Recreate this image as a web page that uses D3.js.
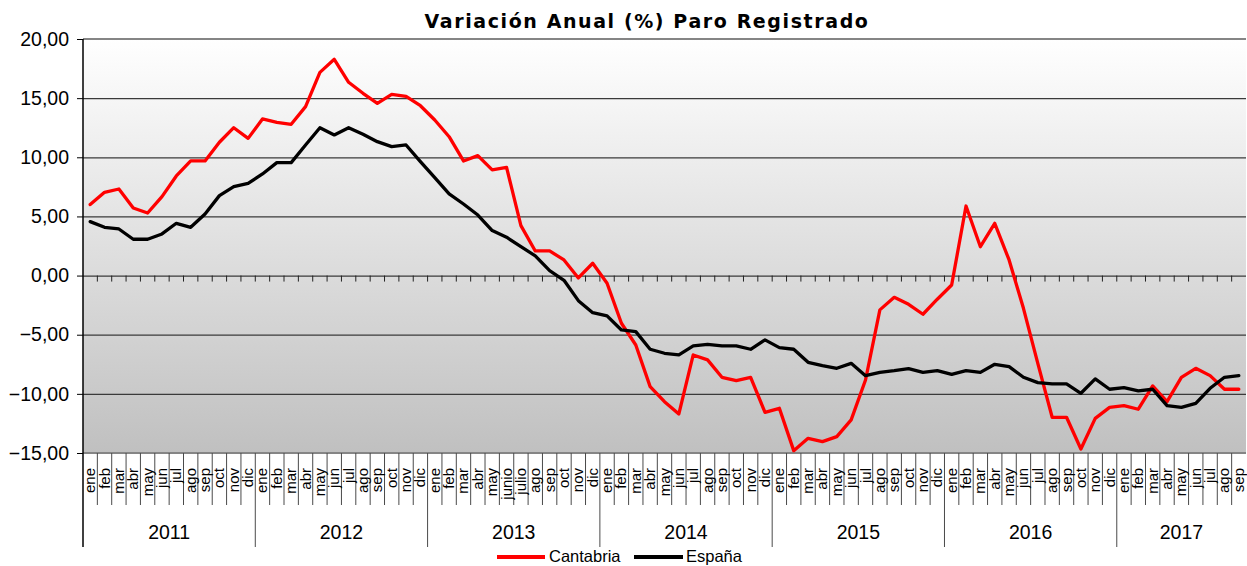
<!DOCTYPE html>
<html>
<head>
<meta charset="utf-8">
<script src="https://cdn.jsdelivr.net/npm/d3@7"></script>
<style>
  html, body { margin: 0; padding: 0; background: #ffffff; }
  svg { display: block; }
</style>
</head>
<body>
<svg id="chart" width="1247" height="566"></svg>
<script>
// ---------------- DATA ----------------
const years = ["2011", "2012", "2013", "2014", "2015", "2016", "2017"];
const monthsStd = ["ene","feb","mar","abr","may","jun","jul","ago","sep","oct","nov","dic"];
const months2013 = ["ene","feb","mar","abr","may","junio","julio","ago","sep","oct","nov","dic"];
const months2017 = ["ene","feb","mar","abr","may","jun","jul","ago","sep"];
const monthsPerYear = [monthsStd, monthsStd, months2013, monthsStd, monthsStd, monthsStd, months2017];

const cantabria = [
  6.00, 7.04, 7.32, 5.71, 5.29, 6.67, 8.42, 9.69, 9.69, 11.27, 12.50, 11.60,
  13.24, 12.96, 12.79, 14.28, 17.18, 18.28, 16.34, 15.41, 14.56, 15.32, 15.15, 14.36,
  13.15, 11.74, 9.69, 10.14, 8.93, 9.15, 4.22, 2.08, 2.08, 1.32, -0.20, 1.04,
  -0.65, -4.03, -5.87, -9.39, -10.66, -11.70, -6.71, -7.13, -8.60, -8.88, -8.60, -11.56,
  -11.22, -14.80, -13.76, -14.04, -13.62, -12.20, -8.83, -2.90, -1.84, -2.43, -3.27, -2.00,
  -0.80, 5.88, 2.44, 4.42, 1.32, -2.77, -7.42, -11.98, -11.98, -14.66, -12.07, -11.14,
  -11.00, -11.30, -9.33, -10.66, -8.60, -7.84, -8.46, -9.61, -9.61
];
const espana = [
  4.56, 4.08, 3.94, 3.07, 3.07, 3.52, 4.42, 4.08, 5.21, 6.76, 7.52, 7.80,
  8.59, 9.55, 9.55, 11.04, 12.50, 11.89, 12.50, 11.94, 11.32, 10.90, 11.04, 9.63,
  8.28, 6.90, 6.05, 5.12, 3.80, 3.24, 2.44, 1.67, 0.41, -0.40, -2.12, -3.14,
  -3.41, -4.60, -4.74, -6.23, -6.57, -6.71, -5.95, -5.81, -5.95, -5.95, -6.23, -5.44,
  -6.09, -6.23, -7.33, -7.61, -7.84, -7.42, -8.46, -8.18, -8.04, -7.87, -8.18, -8.04,
  -8.35, -8.04, -8.18, -7.50, -7.70, -8.60, -9.05, -9.16, -9.16, -9.95, -8.74, -9.61,
  -9.47, -9.75, -9.61, -11.00, -11.14, -10.80, -9.53, -8.60, -8.46
];
const yTicks = [-15, -10, -5, 0, 5, 10, 15, 20];
const seriesNames = ["Cantabria", "España"];
const seriesColors = ["#ff0000", "#000000"];
const titleText = "Variación Anual (%) Paro Registrado";

// ---------------- LAYOUT ----------------
const monthLabels = monthsPerYear.flat();
const yearOfIndex = monthsPerYear.flatMap((m, yi) => m.map(() => yi));
const N = monthLabels.length;

const L = 83, R = 1246, T = 39, B = 453;
const svg = d3.select("#chart");

const x = d3.scaleBand().domain(d3.range(N)).range([L, R]).paddingInner(0).paddingOuter(0);
const y = d3.scaleLinear().domain([-15, 20]).range([B, T]);
const step = x.step();
const cx = i => x(i) + step / 2;

// background gradient
const defs = svg.append("defs");
const grad = defs.append("linearGradient").attr("id", "bg")
  .attr("x1", 0).attr("y1", 0).attr("x2", 0).attr("y2", 1);
grad.append("stop").attr("offset", "0%").attr("stop-color", "#ffffff");
grad.append("stop").attr("offset", "100%").attr("stop-color", "#c0c0c0");

svg.append("rect").attr("x", L).attr("y", T).attr("width", R - L).attr("height", B - T)
  .attr("fill", "url(#bg)");

// gridlines
const grid = svg.append("g").attr("transform", `translate(${L},0)`)
  .call(d3.axisLeft(y).tickValues(yTicks.filter(v => v > -15 && v < 20)).tickSize(-(R - L)).tickFormat(""));
grid.select(".domain").remove();
grid.selectAll("line").attr("stroke", "#3a3a3a").attr("stroke-width", 1.3);

// top & bottom border lines
svg.append("line").attr("x1", L).attr("x2", R).attr("y1", y(20)).attr("y2", y(20))
  .attr("stroke", "#858585").attr("stroke-width", 2);
svg.append("line").attr("x1", L).attr("x2", R).attr("y1", y(-15)).attr("y2", y(-15))
  .attr("stroke", "#858585").attr("stroke-width", 2);

// zero axis ticks at category boundaries
const boundaries = d3.range(N + 1).map(i => (i < N ? x(i) : x(N - 1) + step));
svg.append("g").selectAll("line").data(boundaries.slice(1, N)).join("line")
  .attr("x1", d => d).attr("x2", d => d)
  .attr("y1", y(0)).attr("y2", y(0) + 6)
  .attr("stroke", "#222").attr("stroke-width", 1);

// y axis
const yAxis = svg.append("g").attr("transform", `translate(${L},0)`)
  .call(d3.axisLeft(y).tickValues(yTicks).tickSize(6).tickPadding(8)
    .tickFormat(d => d3.format(".2f")(d).replace(".", ",")));
yAxis.select(".domain").remove();
yAxis.selectAll("line").attr("stroke", "#000").attr("stroke-width", 1);
yAxis.selectAll("text").attr("font-family", "'Liberation Sans', Arial, sans-serif")
  .attr("font-size", "19.5px").attr("fill", "#000");

// left axis line (extends through category area)
svg.append("line").attr("x1", L).attr("x2", L).attr("y1", T).attr("y2", 547)
  .attr("stroke", "#000").attr("stroke-width", 1.5);

// month separators and year separators
svg.append("g").selectAll("line").data(d3.range(1, N)).join("line")
  .attr("x1", i => boundaries[i]).attr("x2", i => boundaries[i])
  .attr("y1", B).attr("y2", i => (yearOfIndex[i] !== yearOfIndex[i - 1]) ? 547 : 505)
  .attr("stroke", "#4a4a4a").attr("stroke-width", 1);

// month labels via axis
const xAxis = svg.append("g").attr("transform", `translate(0,${B})`)
  .call(d3.axisBottom(x).tickSize(0).tickFormat(i => monthLabels[i]));
xAxis.select(".domain").remove();
xAxis.selectAll("text")
  .attr("transform", "rotate(-90)")
  .attr("text-anchor", "end")
  .attr("x", -15).attr("y", 5).attr("dy", 0)
  .attr("font-family", "'Liberation Sans', Arial, sans-serif")
  .attr("font-size", "15px").attr("fill", "#000");

// year labels
const yearCenters = years.map((yr, yi) => {
  const idx = d3.range(N).filter(i => yearOfIndex[i] === yi);
  return (x(idx[0]) + x(idx[idx.length - 1]) + step) / 2;
});
svg.append("g").selectAll("text").data(years).join("text")
  .attr("x", (d, i) => yearCenters[i]).attr("y", 539)
  .attr("text-anchor", "middle")
  .attr("font-family", "'Liberation Sans', Arial, sans-serif")
  .attr("font-size", "19.5px").attr("fill", "#000")
  .text(d => d);

// lines
const lineGen = d3.line().x((d, i) => cx(i)).y(d => y(d));
[cantabria, espana].forEach((s, k) => {
  svg.append("path").datum(s).attr("d", lineGen)
    .attr("fill", "none").attr("stroke", seriesColors[k]).attr("stroke-width", 3.3)
    .attr("stroke-linejoin", "round").attr("stroke-linecap", "round");
});

// title
svg.append("text").attr("x", 647).attr("y", 28).attr("text-anchor", "middle")
  .attr("font-family", "'DejaVu Sans', Verdana, sans-serif").attr("font-weight", "bold")
  .attr("font-size", "19px").attr("letter-spacing", "1.6px").attr("fill", "#000")
  .text(titleText);

// legend
const legendItems = [
  { x1: 497, x2: 545, tx: 549 },
  { x1: 634, x2: 683, tx: 686 }
];
const lg = svg.append("g");
seriesNames.forEach((name, k) => {
  lg.append("line").attr("x1", legendItems[k].x1).attr("x2", legendItems[k].x2)
    .attr("y1", 557).attr("y2", 557)
    .attr("stroke", seriesColors[k]).attr("stroke-width", 4);
  lg.append("text").attr("x", legendItems[k].tx).attr("y", 562)
    .attr("font-family", "'Liberation Sans', Arial, sans-serif")
    .attr("font-size", "16.5px").attr("fill", "#000").text(name);
});
</script>
</body>
</html>
